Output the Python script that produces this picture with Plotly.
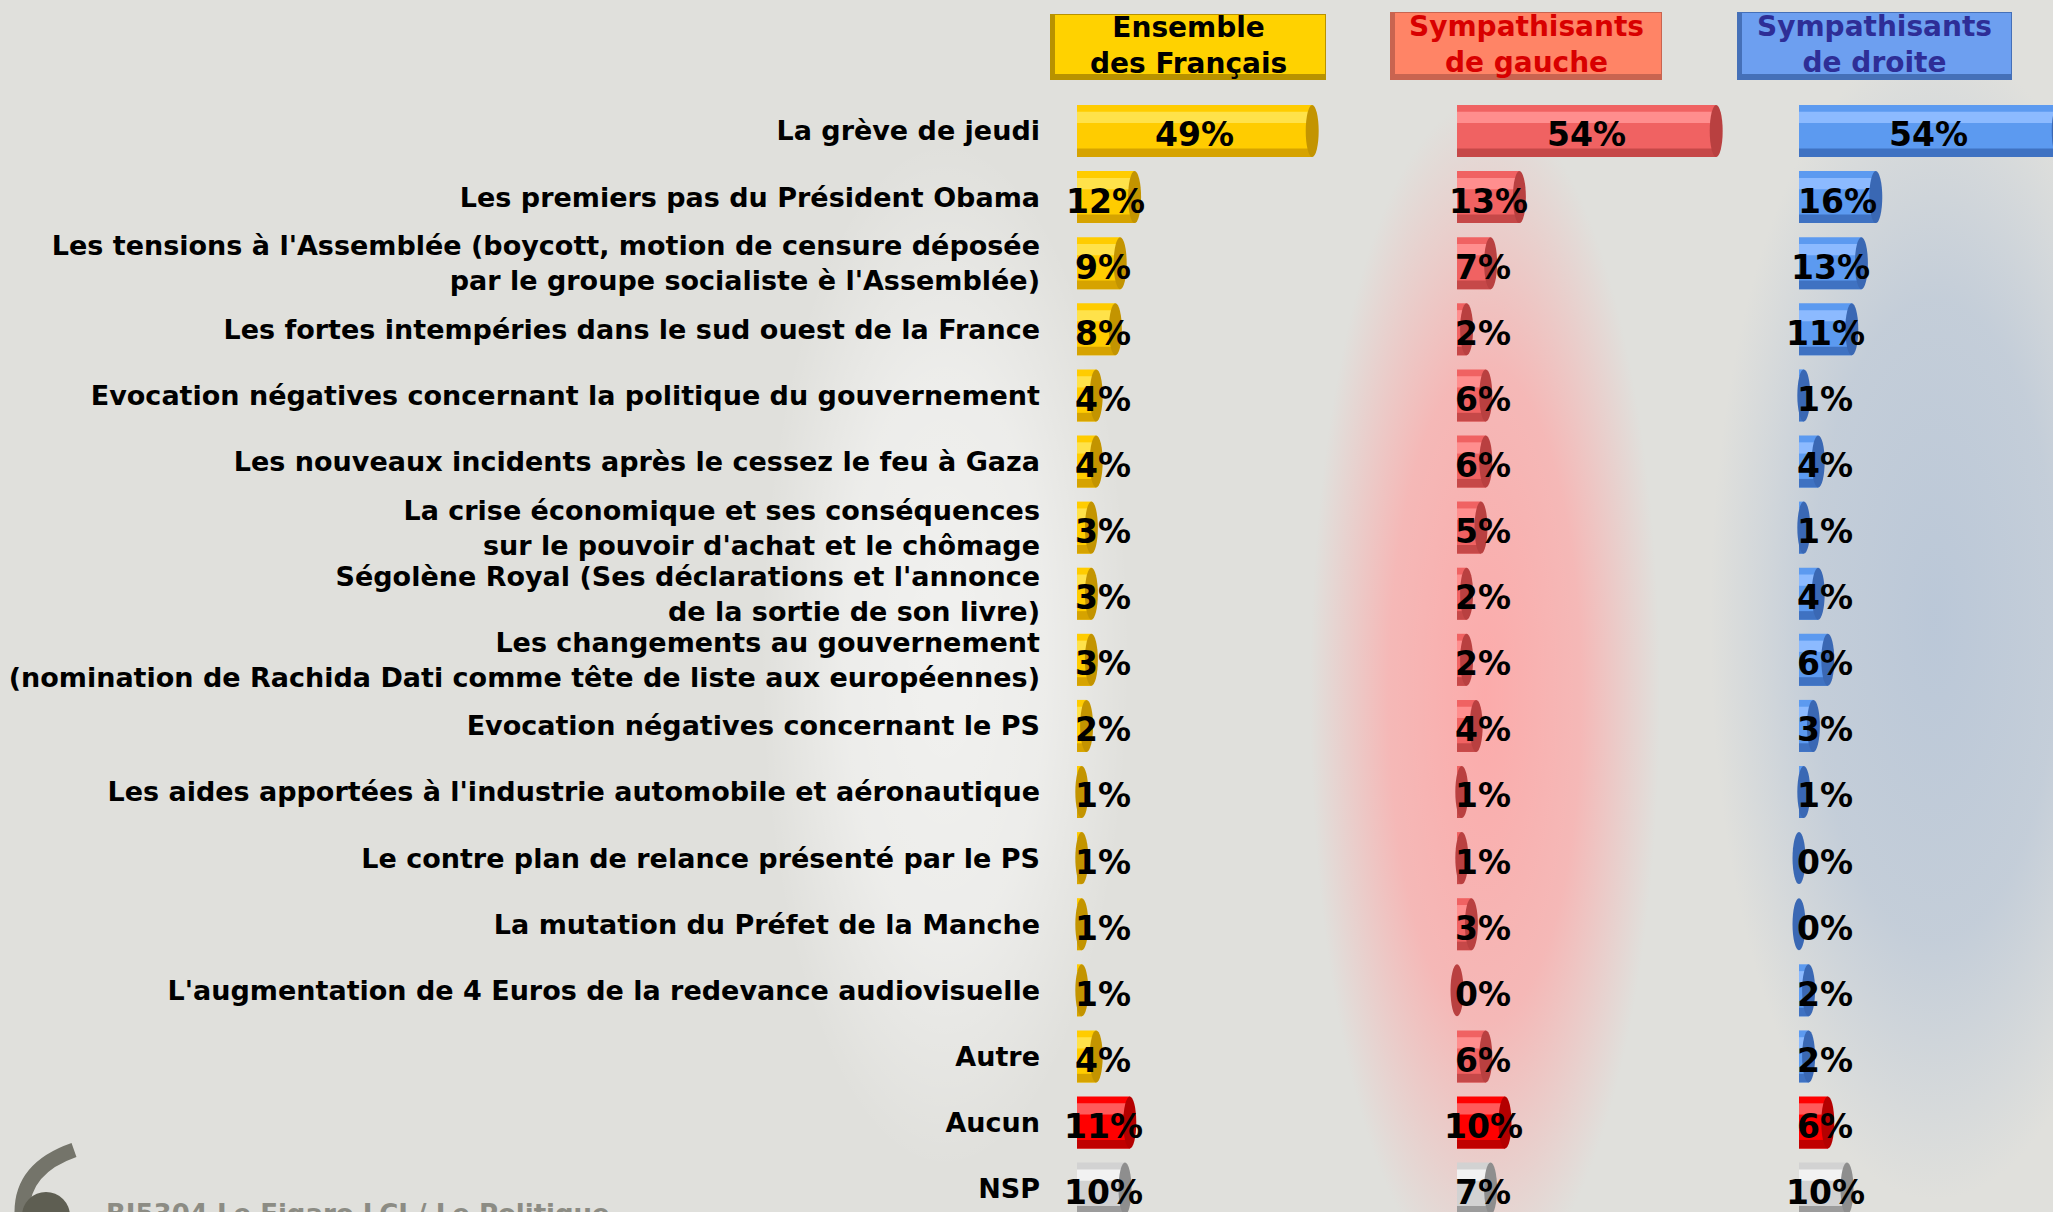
import plotly.graph_objects as go

# ---------------- data ----------------
categories = [
    "La grève de jeudi",
    "Les premiers pas du Président Obama",
    "Les tensions à l'Assemblée (boycott, motion de censure déposée<br>par le groupe socialiste è l'Assemblée)",
    "Les fortes intempéries dans le sud ouest de la France",
    "Evocation négatives concernant la politique du gouvernement",
    "Les nouveaux incidents après le cessez le feu à Gaza",
    "La crise économique et ses conséquences<br>sur le pouvoir d'achat et le chômage",
    "Ségolène Royal (Ses déclarations et l'annonce<br>de la sortie de son livre)",
    "Les changements au gouvernement<br>(nomination de Rachida Dati comme tête de liste aux européennes)",
    "Evocation négatives concernant le PS",
    "Les aides apportées à l'industrie automobile et aéronautique",
    "Le contre plan de relance présenté par le PS",
    "La mutation du Préfet de la Manche",
    "L'augmentation de 4 Euros de la redevance audiovisuelle",
    "Autre",
    "Aucun",
    "NSP",
]
ensemble = [49, 12, 9, 8, 4, 4, 3, 3, 3, 2, 1, 1, 1, 1, 4, 11, 10]
gauche = [54, 13, 7, 2, 6, 6, 5, 2, 2, 4, 1, 1, 3, 0, 6, 10, 7]
droite = [54, 16, 13, 11, 1, 4, 1, 4, 6, 3, 1, 0, 0, 2, 2, 6, 10]
headers = ["Ensemble<br>des Français", "Sympathisants<br>de gauche", "Sympathisants<br>de droite"]
footer = "BJ5304 Le Figaro LCI / Le Politique"

# ---------------- geometry / style ----------------
W, H = 2053, 1212
ROW0, ROWH = 131, 66.1       # pixel centre of first row, row pitch
K = 4.8                      # pixels per percentage point
BARW = 0.787
CAP = 1.35                   # half width of the end cap (in % units)
FONT = "DejaVu Sans, Verdana, sans-serif"

n = len(categories)
ypos = list(range(n))
yrange = [(H - ROW0) / ROWH, -ROW0 / ROWH]

special = {
    "Aucun": dict(body="#ff0000", hl="#ff5a5a", dark="#c00000", cap="#b40000"),
    "NSP": dict(body="#d2d2d2", hl="#f2f2f2", dark="#9c9c9c", cap="#8e8e8e"),
}

panels = [
    dict(vals=ensemble, a=1045, b=1385, z=1077,
         body="#ffcc00", hl="#ffe24a", dark="#d6a300", cap="#c39400",
         box=(1050, 1326, 14, 80), boxfill="#ffd200", boxedge="#b89200", txt="#000000"),
    dict(vals=gauche, a=1385, b=1745, z=1457,
         body="#f06262", hl="#ff8e8e", dark="#c64848", cap="#b94040",
         box=(1390, 1662, 12, 80), boxfill="#ff8466", boxedge="#c96450", txt="#d80000"),
    dict(vals=droite, a=1745, b=2053, z=1799,
         body="#5c9af0", hl="#8cbaff", dark="#3f72c2", cap="#3a68b4",
         box=(1737, 2012, 12, 80), boxfill="#6d9ff0", boxedge="#4570b8", txt="#2e2e96"),
]

fig = go.Figure()


def glow(x0, x1, y0, y1, rgb, alpha):
    return go.Scatter(
        x=[x0, x1, x1, x0, x0], y=[y0, y0, y1, y1, y0],
        fill="toself", mode="none", hoverinfo="skip", showlegend=False,
        fillgradient=dict(type="radial", colorscale=[
            [0, f"rgba({rgb},{alpha})"],
            [0.55, f"rgba({rgb},{alpha * 0.75})"],
            [1, f"rgba({rgb},0)"]]),
        xaxis="x", yaxis="y")


# background glows (pixel axes)
fig.add_trace(glow(760, 1130, 140, 1170, "255,255,255", 0.55))
fig.add_trace(glow(1310, 1660, 100, 1290, "255,165,165", 0.9))
fig.add_trace(glow(1710, 2160, 40, 1200, "172,190,214", 0.72))

shapes = []
annotations = []

for p_i, p in enumerate(panels):
    ax = "x" + str(p_i + 2)
    vals = p["vals"]
    body = [special.get(c, p)["body"] for c in categories]
    hl = [special.get(c, p)["hl"] for c in categories]
    dark = [special.get(c, p)["dark"] for c in categories]
    cap = [special.get(c, p)["cap"] for c in categories]

    fig.add_trace(go.Bar(x=vals, y=ypos, orientation="h", width=BARW, offset=-BARW / 2,
                         marker=dict(color=body, line=dict(width=0)),
                         xaxis=ax, yaxis="y2", hoverinfo="skip", showlegend=False))
    fig.add_trace(go.Bar(x=vals, y=ypos, orientation="h", width=0.17, offset=-0.29,
                         marker=dict(color=hl, line=dict(width=0)),
                         xaxis=ax, yaxis="y2", hoverinfo="skip", showlegend=False))
    fig.add_trace(go.Bar(x=vals, y=ypos, orientation="h", width=0.13, offset=BARW / 2 - 0.13,
                         marker=dict(color=dark, line=dict(width=0)),
                         xaxis=ax, yaxis="y2", hoverinfo="skip", showlegend=False))

    for i, v in enumerate(vals):
        shapes.append(dict(type="circle", xref=ax, yref="y2",
                           x0=v - CAP, x1=v + CAP, y0=i - BARW / 2, y1=i + BARW / 2,
                           fillcolor=cap[i], line=dict(width=0), layer="above"))
        lx = v / 2 if v >= 20 else max(v / 2, 5.5)
        annotations.append(dict(xref=ax, yref="y2", x=lx, y=i + 0.06, text=f"{v}%",
                                showarrow=False, xanchor="center", yanchor="middle",
                                font=dict(family=FONT, size=33, color="#000000", weight="bold")))

    # header box
    x0, x1, y0, y1 = p["box"]
    shapes.append(dict(type="rect", xref="x", yref="y", x0=x0, x1=x1, y0=y0, y1=y1,
                       fillcolor=p["boxedge"], line=dict(width=0), layer="above"))
    shapes.append(dict(type="rect", xref="x", yref="y", x0=x0 + 5, x1=x1 - 1, y0=y0 + 1, y1=y1 - 6,
                       fillcolor=p["boxfill"], line=dict(width=0), layer="above"))
    annotations.append(dict(xref="x", yref="y", x=(x0 + x1) / 2, y=(y0 + y1) / 2 - 2,
                            text=headers[p_i], showarrow=False, xanchor="center", yanchor="middle",
                            font=dict(family=FONT, size=28, color=p["txt"], weight="bold")))

# footer (cut by the bottom edge, as in the source) & logo hint
annotations.append(dict(xref="x", yref="y", x=104, y=1197, text=footer, showarrow=False,
                        xanchor="left", yanchor="top",
                        font=dict(family=FONT, size=26, color="#8c8c84", weight="bold")))
shapes.append(dict(type="path", xref="x", yref="y",
                   path="M 22 1212 Q 22 1168 74 1150",
                   line=dict(color="#74746a", width=15), layer="above"))
shapes.append(dict(type="circle", xref="x", yref="y", x0=22, x1=70, y0=1192, y1=1240,
                   fillcolor="#5e5e52", line=dict(width=0), layer="above"))

layout_axes = dict(
    xaxis=dict(domain=[0, 1], range=[0, W], visible=False, fixedrange=True),
    yaxis=dict(domain=[0, 1], range=[H, 0], visible=False, fixedrange=True),
    yaxis2=dict(domain=[0, 1], range=yrange, anchor="x2", tickmode="array",
                tickvals=ypos, ticktext=categories, showgrid=False, zeroline=False,
                showline=False, ticks="", ticklabelstandoff=4,
                tickfont=dict(family=FONT, size=27, color="#000000", weight="bold")),
)
for p_i, p in enumerate(panels):
    layout_axes["xaxis" + str(p_i + 2)] = dict(
        domain=[p["a"] / W, p["b"] / W],
        range=[(p["a"] - p["z"]) / K, (p["b"] - p["z"]) / K],
        anchor="y2", visible=False, fixedrange=True)

fig.update_layout(
    width=W, height=H, margin=dict(l=0, r=0, t=0, b=0),
    paper_bgcolor="#e0e0dc", plot_bgcolor="rgba(0,0,0,0)",
    barmode="overlay", showlegend=False,
    shapes=shapes, annotations=annotations,
    **layout_axes,
)

fig.write_html("out.html", config={"displayModeBar": False},
               post_script="document.body.style.margin='0';document.body.style.overflow='hidden';")
